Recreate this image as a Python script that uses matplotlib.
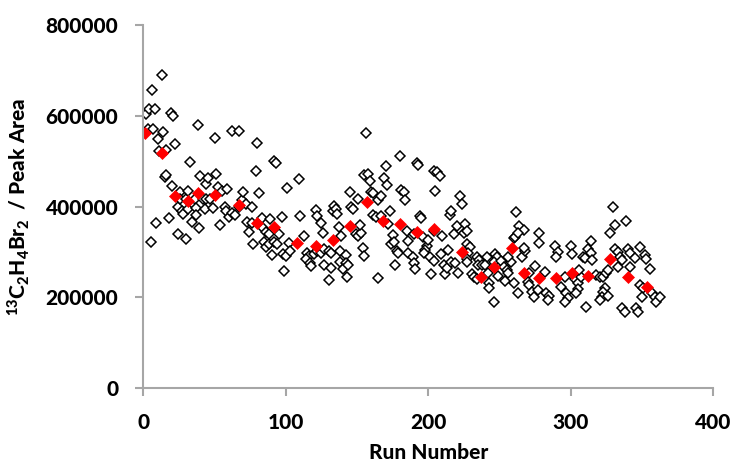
import matplotlib
matplotlib.use('Agg')
import matplotlib.pyplot as plt

# individual runs (run number, peak area / 1000)
runs = [2, 3, 4, 5, 6, 7, 8, 9, 10,
        11, 13, 14, 15, 16, 16, 18, 19, 20,
        21, 22, 24, 24, 26, 26, 27, 28, 30, 30,
        31, 31, 33, 34, 36, 37, 37, 38, 39, 40,
        42, 43, 44, 44, 45, 47, 49, 50,
        51, 52, 54, 55, 57, 58, 59, 60,
        62, 62, 64, 67, 67, 69, 70,
        72, 73, 74, 76, 76, 77, 79, 80,
        81, 83, 84, 85, 86, 86, 88, 88, 89,
        90, 92, 93, 92, 94, 95, 97, 98, 99,
        101, 100, 102, 103, 109, 110,
        113, 115, 116, 114, 117, 118, 120,
        121, 122, 122, 125, 125, 126, 127, 127, 130, 130,
        132, 132, 133, 134, 135, 136, 137, 139, 138, 142, 138, 142, 140, 143, 144,
        145, 146, 147, 149,
        151, 151, 153, 154, 155, 156, 155, 152, 158, 159, 160, 161,
        161, 163, 165, 167, 165, 167, 169, 170, 171,
        172, 173, 174, 175, 176, 177, 178, 179, 180,
        181, 183, 184, 185, 186, 186, 189, 190, 190,
        191, 192, 193, 194, 195, 196, 199, 198, 197, 200,
        201, 202, 204, 204, 205, 206, 208, 204, 209, 210,
        211, 212, 213, 214, 215, 216, 216, 218, 219,
        220, 221, 222, 224, 225, 226, 227, 227, 229, 228, 227, 227,
        231, 232, 234, 234, 236, 235, 238,
        241, 240, 242, 243, 243, 246, 247, 248, 246, 249,
        251, 253, 255, 256, 254, 260, 258, 256, 262, 260, 261,
        264, 267, 263, 263, 266, 268, 267, 271, 270, 271,
        273, 274, 275, 278, 278, 277, 282,
        283, 285, 284, 289, 291, 290,
        296, 293, 297, 298, 296, 300,
        301, 303, 305, 305, 307, 306, 304, 309, 310,
        311, 312, 314, 314, 315, 318,
        321, 323, 325, 326, 324, 323, 322, 321, 326, 330, 331, 328,
        331, 333, 335, 336, 333, 339, 336, 338, 340,
        342, 345, 342, 346, 347, 349, 349, 351, 350,
        352, 353, 356, 357, 359, 360, 363]
areas = [603, 570, 615, 322, 657, 570, 614, 364, 548,
         523, 690, 565, 465, 469, 524, 375, 605, 446,
         600, 537, 339, 400, 433, 417, 389, 383, 328, 417,
         434, 394, 497, 365, 417, 396, 381, 579, 353, 467,
         417, 394, 450, 417, 462, 417, 396, 551,
         472, 442, 359, 435, 400, 389, 438, 376,
         566, 385, 381, 567, 400, 414, 433,
         406, 365, 343, 400, 363, 318, 479, 541,
         430, 374, 352, 322, 344, 311, 317, 339, 372,
         293, 501, 495, 322, 317, 339, 376, 295, 258,
         441, 291, 319, 303, 461, 379,
         335, 298, 291, 284, 275, 269, 295,
         392, 379, 303, 364, 298, 342, 306, 271, 303, 238,
         298, 264, 391, 402, 395, 383, 354, 335, 303, 293, 278, 275, 262, 245, 271,
         432, 400, 395, 339,
         417, 335, 342, 309, 292, 563, 470, 359, 472, 457, 433, 429,
         381, 376, 414, 423, 242, 379, 462, 489, 447,
         361, 389, 317, 337, 322, 271, 303, 297, 511,
         436, 432, 414, 345, 325, 297, 289, 339, 276,
         262, 495, 491, 379, 374, 332, 313, 304, 298, 326,
         289, 251, 280, 478, 435, 475, 467, 345, 295, 335,
         271, 251, 264, 304, 381, 391, 278, 340, 275,
         357, 253, 424, 406, 342, 362, 345, 318, 310, 297, 285, 278,
         251, 245, 240, 288, 281, 271, 271,
         288, 271, 253, 231, 220, 190, 295, 289, 278, 247,
         280, 267, 259, 253, 236, 231, 278, 289, 387, 330, 333,
         357, 348, 342, 210, 289, 303, 308, 253, 234, 227,
         212, 200, 269, 341, 319, 217, 256,
         209, 203, 194, 313, 300, 288,
         245, 223, 209, 198, 190, 313,
         295, 240, 232, 218, 245, 260, 209, 289, 286,
         178, 306, 298, 325, 282, 249,
         244, 245, 253, 260, 220, 212, 201, 194, 203, 398, 359, 341,
         306, 300, 289, 282, 266, 369, 176, 168, 306,
         297, 286, 266, 176, 168, 311, 227, 220, 201,
         293, 284, 262, 209, 201, 190, 201]

# block averages (red)
avg_runs = [1, 13, 22, 31, 38, 50, 67, 80, 92, 108, 121, 133, 145, 157, 168,
            180, 192, 204, 224, 237, 246, 259, 267, 278, 290, 301, 312, 328, 340, 354]
avg_areas = [562, 519, 424, 413, 430, 425, 403, 364, 355, 319, 313, 326, 357, 410, 368,
             361, 344, 350, 300, 245, 267, 308, 254, 242, 242, 253, 247, 284, 245, 222]

plt.rcParams['font.family'] = ['Lato', 'DejaVu Sans']
plt.rcParams['mathtext.fontset'] = 'custom'
plt.rcParams['mathtext.rm'] = 'Lato:black'
plt.rcParams['mathtext.bf'] = 'Lato:black'
plt.rcParams['mathtext.it'] = 'Lato:black'

W = 900  # heaviest weight available

fig = plt.figure(figsize=(7.32, 4.65), dpi=100)
ax = fig.add_axes([0.196, 0.1656, 0.778, 0.7806])

ax.plot(runs, [a * 1000 for a in areas], linestyle='none', marker='D', ms=5.3,
        mfc='white', mec='black', mew=1.1)
ax.plot(avg_runs, [a * 1000 for a in avg_areas], linestyle='none', marker='D', ms=6.3,
        mfc='red', mec='red', mew=0.5)

ax.set_xlim(0, 400)
ax.set_ylim(0, 800000)
ax.set_xticks([0, 100, 200, 300, 400])
ax.set_yticks([0, 200000, 400000, 600000, 800000])

gray = '#A6A6A6'
for s in ['top', 'right']:
    ax.spines[s].set_visible(False)
for s in ['left', 'bottom']:
    ax.spines[s].set_color(gray)
    ax.spines[s].set_linewidth(1.5)
ax.tick_params(axis='both', direction='out', color=gray, width=1.5, length=6,
               labelsize=15)
ax.tick_params(axis='y', pad=12)
ax.tick_params(axis='x', pad=12)
for lab in ax.get_xticklabels() + ax.get_yticklabels():
    lab.set_fontweight(W)

ax.set_xlabel('Run Number', fontsize=15, fontweight=W, labelpad=8)
ax.set_ylabel(r'$^{13}$C$_{2}$H$_{4}$Br$_{2}$  / Peak Area', fontsize=15,
              fontweight=W, labelpad=10)

fig.savefig('out.png', dpi=100)
